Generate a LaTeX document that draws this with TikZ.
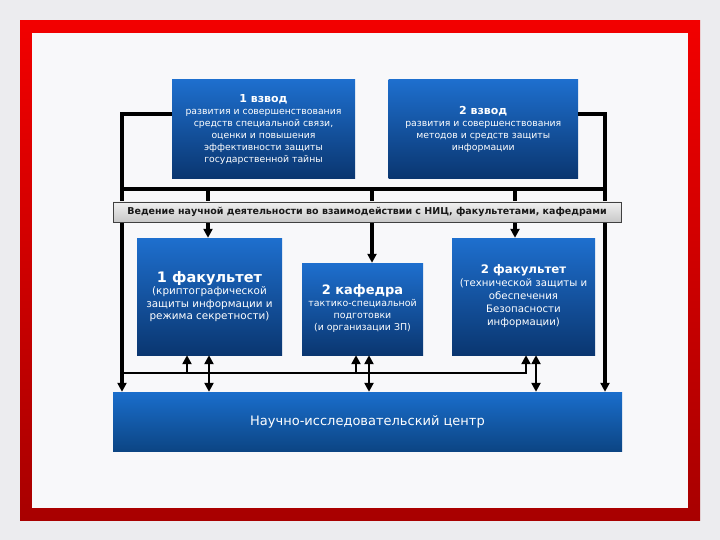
\documentclass[tikz,border=0pt]{standalone}
\usepackage{fontspec}
\setmainfont{DejaVu Sans}
\usetikzlibrary{arrows.meta}
\definecolor{bgout}{HTML}{ECECEF}
\definecolor{bgin}{HTML}{F8F8FA}
\definecolor{redtop}{HTML}{F20000}
\definecolor{redbot}{HTML}{A80000}
\definecolor{bluetop}{HTML}{1E6FCE}
\definecolor{bluebot}{HTML}{0A3670}
\definecolor{nictop}{HTML}{1A6ECC}
\definecolor{nicbot}{HTML}{0C4584}
\definecolor{bargray}{HTML}{C8C8C8}
\tikzset{
  bluebox/.style={draw=none, top color=bluetop, bottom color=bluebot, text=white, align=center, inner sep=2pt},
  conn/.style={line width=3.2pt, black},
  thinconn/.style={line width=2.6pt, black},
  tipend/.style={-{Triangle[length=9pt,width=9pt]}},
  tipboth/.style={{Triangle[length=9pt,width=9pt]}-{Triangle[length=9pt,width=9pt]}},
}
\begin{document}
\begin{tikzpicture}[x=1pt,y=-1pt]
\useasboundingbox (0,0) rectangle (720,540);
\fill[bgout] (0,0) rectangle (720,540);
\fill[top color=redtop, bottom color=redbot] (20,21) rectangle (700,520);
\fill[bgin] (32,33) rectangle (688,508);

% boxes
\node[bluebox, minimum width=183pt, minimum height=99pt, font=\fontsize{9.3}{12}\selectfont] (b1) at (263.5,129)
 {{\fontsize{11}{13}\selectfont\bfseries 1 взвод}\\развития и совершенствования\\средств специальной связи,\\оценки и повышения\\эффективности защиты\\государственной тайны};
\node[bluebox, minimum width=189.5pt, minimum height=99pt, font=\fontsize{9.3}{12}\selectfont] (b2) at (483.25,129)
 {{\fontsize{11}{16}\selectfont\bfseries 2 взвод}\\развития и совершенствования\\методов и средств защиты\\информации};
\node[bluebox, minimum width=145pt, minimum height=117pt, font=\fontsize{10.4}{12.5}\selectfont] (f1) at (209.5,296.5)
 {{\fontsize{14.5}{18}\selectfont\bfseries 1 факультет}\\(криптографической\\защиты информации и\\режима секретности)};
\node[bluebox, minimum width=121pt, minimum height=92pt, font=\fontsize{9.4}{12}\selectfont] (k2) at (362.5,309)
 {{\fontsize{13}{18}\selectfont\bfseries 2 кафедра}\\тактико-специальной\\подготовки\\(и организации ЗП)};
\node[bluebox, minimum width=143pt, minimum height=117pt, font=\fontsize{10.2}{13}\selectfont] (f2) at (523.5,296.5)
 {{\fontsize{11.8}{17}\selectfont\bfseries 2 факультет}\\(технической защиты и\\обеспечения\\Безопасности\\информации)};
\node[draw=none, top color=nictop, bottom color=nicbot, text=white, minimum width=509pt, minimum height=59pt, font=\fontsize{13}{15}\selectfont] (nic) at (367.5,421.5) {Научно-исследовательский центр};

% named coordinates
\coordinate (L) at (122,0);
\coordinate (R) at (605,0);
\coordinate (hy) at (0,189);
\coordinate (hb) at (0,373);
\coordinate (a1) at (208,189);
\coordinate (a2) at (372,189);
\coordinate (a3) at (515,189);
\coordinate (u1) at (187,373);
\coordinate (u2) at (356,373);
\coordinate (u3) at (526,373);
\coordinate (d1) at (209,0);
\coordinate (d2) at (369,0);
\coordinate (d3) at (536,0);

% upper connectors
\draw[conn, tipend] ([yshift=15pt]b1.west) -| (L |- nic.north);
\draw[conn, tipend] ([yshift=15pt]b2.east) -| (R |- nic.north);
\draw[conn] (L |- hy) -- (R |- hy);
\draw[conn, tipend] (a1) -- (a1 |- f1.north);
\draw[conn, tipend] (a2) -- (a2 |- k2.north);
\draw[conn, tipend] (a3) -- (a3 |- f2.north);

% bar
\node[draw=black!75, line width=0.9pt, top color=gray!12, bottom color=bargray, minimum width=508pt, minimum height=20pt, inner sep=0pt, font=\fontsize{9.5}{11}\selectfont\bfseries, text=black!90] (bar) at (367,212)
 {Ведение научной деятельности во взаимодействии с НИЦ, факультетами, кафедрами};

% lower connectors
\draw[thinconn, tipend] (L |- hb) -- (u3) -- (u3 |- f2.south);
\draw[thinconn, tipend] (u1) -- (u1 |- f1.south);
\draw[thinconn, tipend] (u2) -- (u2 |- k2.south);
\draw[thinconn, tipboth] (d1 |- f1.south) -- (d1 |- nic.north);
\draw[thinconn, tipboth] (d2 |- k2.south) -- (d2 |- nic.north);
\draw[thinconn, tipboth] (d3 |- f2.south) -- (d3 |- nic.north);
\end{tikzpicture}
\end{document}
